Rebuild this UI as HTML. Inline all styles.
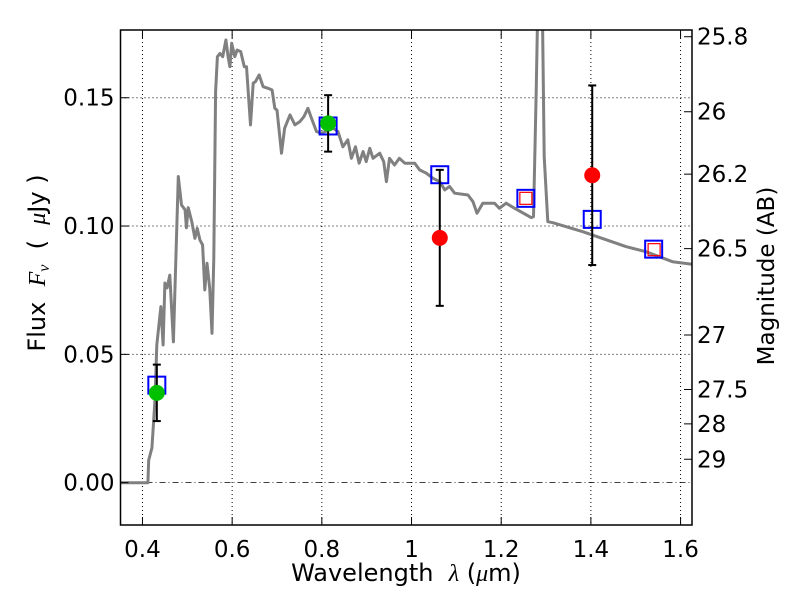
<!DOCTYPE html>
<html><head><meta charset="utf-8"><style>
body{margin:0;background:#fff}
svg text{font-family:"DejaVu Sans","Liberation Sans",sans-serif;fill:#000;white-space:pre}
</style></head><body>
<svg id="chart" width="800" height="600" xmlns="http://www.w3.org/2000/svg"></svg>
<script>
const xTicks=[0.4,0.6,0.8,1.0,1.2,1.4,1.6];
const xTickLabels=["0.4","0.6","0.8","1","1.2","1.4","1.6"];
const yTicks=[0,0.05,0.10,0.15];
const yTickLabels=["0.00","0.05","0.10","0.15"];
const magTicks=[25.8,26,26.2,26.5,27,27.5,28,29];
const magLabels=["25.8","26","26.2","26.5","27","27.5","28","29"];
const sedWl=[0.352,0.412,0.414,0.421,0.428,0.432,0.441,0.446,0.450,0.455,0.461,0.469,0.480,0.487,0.495,0.498,0.502,0.510,0.517,0.522,0.528,0.534,0.539,0.544,0.550,0.555,0.559,0.563,0.567,0.573,0.579,0.586,0.591,0.595,0.599,0.606,0.611,0.619,0.627,0.632,0.641,0.647,0.652,0.660,0.669,0.680,0.689,0.695,0.700,0.710,0.717,0.729,0.740,0.751,0.760,0.769,0.777,0.788,0.799,0.825,0.836,0.847,0.858,0.866,0.875,0.883,0.892,0.899,0.907,0.914,0.929,0.938,0.944,0.951,0.962,0.973,0.985,0.996,1.007,1.018,1.033,1.048,1.063,1.074,1.085,1.096,1.126,1.137,1.146,1.159,1.185,1.196,1.211,1.230,1.267,1.272,1.278,1.284,1.290,1.296,1.304,1.315,1.382,1.478,1.523,1.582,1.627];
const sedFlux=[0,0,0.0088,0.0135,0.0322,0.0537,0.0686,0.0537,0.0778,0.0759,0.0809,0.0549,0.1193,0.1082,0.1063,0.0993,0.1072,0.1017,0.0952,0.0991,0.0946,0.0926,0.0751,0.0855,0.0758,0.0582,0.0876,0.1524,0.166,0.1673,0.166,0.1725,0.166,0.1621,0.1712,0.166,0.1686,0.168,0.1621,0.1621,0.1394,0.1557,0.1563,0.1589,0.1543,0.1537,0.153,0.1459,0.1452,0.1284,0.1381,0.1433,0.1394,0.1407,0.1426,0.1459,0.142,0.1368,0.1362,0.1381,0.1368,0.1309,0.1336,0.1264,0.1309,0.1245,0.129,0.1251,0.1303,0.1264,0.1284,0.1251,0.1173,0.1264,0.1238,0.1264,0.1245,0.1245,0.1245,0.1219,0.1206,0.1186,0.1173,0.1141,0.1154,0.1128,0.1121,0.1095,0.105,0.1089,0.1089,0.1069,0.1089,0.1069,0.1033,0.1037,0.1524,0.21,0.21,0.127,0.1017,0.1013,0.0978,0.092,0.09,0.0861,0.0851];
const modelWl=[0.432,0.814,1.063,1.255,1.403,1.540];
const modelFlux=[0.038,0.139,0.120,0.1108,0.1026,0.0910];
const obsGreenWl=[0.432,0.814];
const obsGreenFlux=[0.035,0.140];
const obsGreenErr=[0.011,0.011];
const obsRedWl=[1.063,1.403];
const obsRedFlux=[0.0954,0.1198];
const obsRedErr=[0.0265,0.035];
const redSqWl=[1.255,1.541];
const redSqFlux=[0.1108,0.0908];

const L=120.5,R=692,T=30,B=525;
const X0=0.351,X1=1.6255,Y0=-0.0165,Y1=0.1764;
const xs=v=>L+(v-X0)/(X1-X0)*(R-L);
const ys=v=>B-(v-Y0)/(Y1-Y0)*(B-T);
const svg=document.getElementById('chart');
const NS='http://www.w3.org/2000/svg';
function mk(tag,attrs,parent){const e=document.createElementNS(NS,tag);for(const k in attrs)e.setAttribute(k,attrs[k]);(parent||svg).appendChild(e);return e;}

const defs=mk('defs',{});const cp=mk('clipPath',{id:'clip'},defs);mk('rect',{x:L,y:T,width:R-L,height:B-T},cp);

const grid=mk('g',{});


xTicks.forEach(v=>{mk('line',{x1:xs(v),x2:xs(v),y1:T,y2:B,stroke:'#000','stroke-width':1,'stroke-dasharray':'1,3'},grid);});
yTicks.forEach(v=>{if(v!==0)mk('line',{x1:L,x2:R,y1:ys(v),y2:ys(v),stroke:'#000','stroke-width':1,'stroke-dasharray':'1,3'},grid);});
const zl=mk('line',{x1:L,x2:R,y1:ys(0),y2:ys(0),stroke:'#000','stroke-width':0.8,'stroke-dasharray':'6,3,1,3'});



const pts=sedWl.map((w,i)=>xs(w).toFixed(1)+','+ys(sedFlux[i]).toFixed(1)).join(' ');
const sed=mk('polyline',{points:pts,fill:'none',stroke:'#808080','stroke-width':3,'stroke-linejoin':'round','clip-path':'url(#clip)'});



modelWl.forEach((w,i)=>{const s=17;const r=mk('rect',{x:xs(w)-s/2,y:ys(modelFlux[i])-s/2,width:s,height:s,fill:'none',stroke:'#0000ff','stroke-width':2});

});
redSqWl.forEach((w,i)=>{const s=12;const r=mk('rect',{x:xs(w)-s/2,y:ys(redSqFlux[i])-s/2,width:s,height:s,fill:'none',stroke:'#ff0000','stroke-width':1.2});

});

function obs(wl,fl,er,color,name){wl.forEach((w,i)=>{const g=mk('g',{});


const x=xs(w),y1=ys(fl[i]+er[i]),y2=ys(fl[i]-er[i]);
mk('line',{x1:x,x2:x,y1:y1,y2:y2,stroke:'#000','stroke-width':2},g);
mk('line',{x1:x-4,x2:x+4,y1:y1,y2:y1,stroke:'#000','stroke-width':2},g);
mk('line',{x1:x-4,x2:x+4,y1:y2,y2:y2,stroke:'#000','stroke-width':2},g);
mk('circle',{cx:x,cy:ys(fl[i]),r:8,fill:color},g);});}
obs(obsGreenWl,obsGreenFlux,obsGreenErr,'#00c000','observed-point-green');
obs(obsRedWl,obsRedFlux,obsRedErr,'#ff0000','observed-point-red');

const fr=mk('rect',{x:L,y:T,width:R-L,height:B-T,fill:'none',stroke:'#000','stroke-width':1.5});



xTicks.forEach((v,i)=>{const x=xs(v);
mk('line',{x1:x,x2:x,y1:B,y2:B-8,stroke:'#000'});mk('line',{x1:x,x2:x,y1:T,y2:T+8,stroke:'#000'});
const t=mk('text',{x:x,y:B+32,'text-anchor':'middle','font-size':23});t.textContent=xTickLabels[i];

});
yTicks.forEach((v,i)=>{const y=ys(v);
mk('line',{x1:L,x2:L+8,y1:y,y2:y,stroke:'#000'});
const t=mk('text',{x:L-6,y:y+8,'text-anchor':'end','font-size':23});t.textContent=yTickLabels[i];

});
magTicks.forEach((m,i)=>{const f=Math.pow(10,(23.9-m)/2.5);const y=ys(f);
mk('line',{x1:R,x2:R-8,y1:y,y2:y,stroke:'#000'});
const t=mk('text',{x:R+5,y:y+8,'font-size':23});t.textContent=magLabels[i];

});

const xt=mk('text',{x:406,y:581,'text-anchor':'middle','font-size':24});
xt.innerHTML='Wavelength  <tspan font-family="Liberation Serif" font-style="italic">λ</tspan> (<tspan font-family="Liberation Serif" font-style="italic">μ</tspan>m)';


const yt=mk('text',{x:0,y:0,'text-anchor':'middle','font-size':24,transform:'translate(45,263) rotate(-90)'});
yt.innerHTML='Flux  <tspan font-family="Liberation Serif" font-style="italic">F<tspan font-size="16" dy="4">ν</tspan></tspan><tspan dy="-4">  (  </tspan><tspan font-family="Liberation Serif" font-style="italic">μ</tspan>Jy )';


const rt=mk('text',{x:0,y:0,'text-anchor':'middle','font-size':23,transform:'translate(774,276) rotate(-90)'});
rt.textContent='Magnitude (AB)';


</script>
</body></html>
